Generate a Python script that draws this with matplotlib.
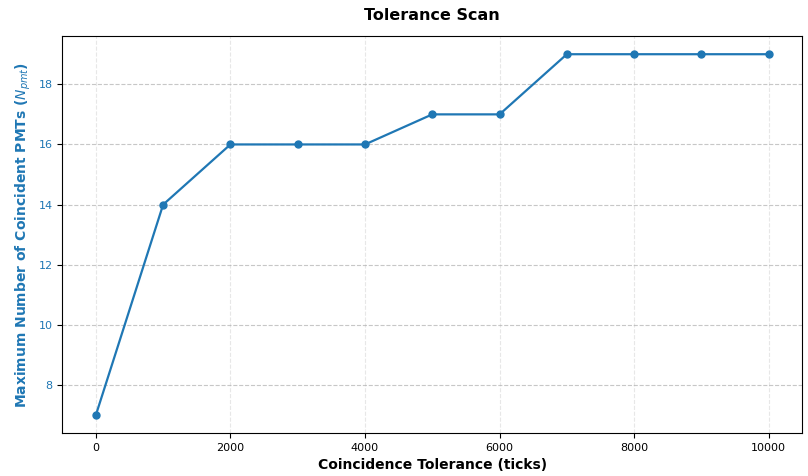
import matplotlib
matplotlib.use("Agg")
import matplotlib.pyplot as plt

tolerance = [0, 1000, 2000, 3000, 4000, 5000, 6000, 7000, 8000, 9000, 10000]
max_pmts = [7, 14, 16, 16, 16, 17, 17, 19, 19, 19, 19]

fig, ax = plt.subplots(figsize=(8.08, 4.76), dpi=100)
color = "tab:blue"
ax.plot(tolerance, max_pmts, marker="o", color=color, linewidth=1.6, markersize=5)
ax.set_xlabel("Coincidence Tolerance (ticks)", fontsize=10, fontweight="bold")
ax.set_ylabel("Maximum Number of Coincident PMTs ($N_{pmt}$)", fontsize=10,
              fontweight="bold", color=color)
ax.tick_params(axis="y", labelcolor=color, labelsize=8)
ax.tick_params(axis="x", labelsize=8)
ax.set_title("Tolerance Scan", fontsize=11.5, fontweight="bold", pad=12)
ax.xaxis.grid(True, linestyle="--", alpha=0.3)
ax.yaxis.grid(True, linestyle="--", alpha=0.7)
fig.subplots_adjust(left=0.077, right=0.993, top=0.924, bottom=0.09)
fig.savefig("out.png", dpi=100)
